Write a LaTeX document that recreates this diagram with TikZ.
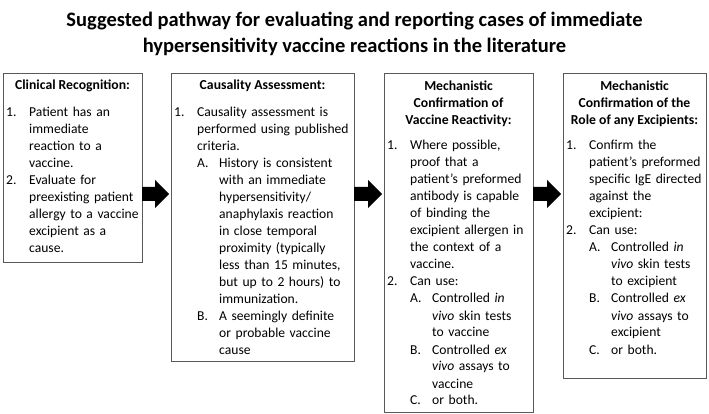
\documentclass[tikz,border=0pt]{standalone}
\usepackage{fontspec}
\setmainfont{Carlito}
\usetikzlibrary{calc}
\hyphenpenalty=10000
\newcommand{\Li}[1]{\makebox[23pt][l]{#1}}
\newcommand{\Ci}{\hspace*{23pt}}
\newcommand{\Lii}[1]{\hspace*{23pt}\makebox[22pt][l]{#1}}
\newcommand{\Cii}{\hspace*{45pt}}
\tikzset{
  stagebox/.style={draw=black!65, line width=0.8pt, anchor=north west, inner sep=0pt, outer sep=0pt},
  headtxt/.style={font=\fontsize{13.7}{17}\selectfont\bfseries, align=center, anchor=base, inner sep=0pt},
  bodytxt/.style={font=\fontsize{13.6}{17}\selectfont, align=left, anchor=base west, inner sep=0pt, text width=200pt},
  titletxt/.style={font=\fontsize{20.5}{26}\selectfont\bfseries, align=center, anchor=base, inner sep=0pt},
  flowarrow/.style={fill=black, draw=none}
}
\begin{document}
\begin{tikzpicture}[x=1pt,y=-1pt]
\useasboundingbox (0,0) rectangle (709,414);
\fill[white] (0,0) rectangle (709,414);

\node[titletxt] (title) at (354.5,53) {Suggested pathway for evaluating and reporting cases of immediate\\hypersensitivity vaccine reactions in the literature};

% boxes
\node[stagebox, minimum width=139pt, minimum height=189pt] (b1) at (3,73) {};
\node[stagebox, minimum width=183pt, minimum height=288pt] (b2) at (171,73) {};
\node[stagebox, minimum width=149pt, minimum height=339pt] (b3) at (384,73) {};
\node[stagebox, minimum width=143pt, minimum height=305pt] (b4) at (563,73) {};

% headers
\node[headtxt] (h1) at (72.5,90) {Clinical Recognition:};
\node[headtxt] (h2) at (262.5,90) {Causality Assessment:};
\node[headtxt] (h3) at (458.5,125) {Mechanistic\\Confirmation of\\Vaccine Reactivity:};
\node[headtxt] (h4) at (634.5,125) {Mechanistic\\Confirmation of the\\Role of any Excipients:};

% bodies
\node[bodytxt] (t1) at (6,117) {%
\Li{1.}Patient has an\\
\Ci immediate\\
\Ci reaction to a\\
\Ci vaccine.\\
\Li{2.}Evaluate for\\
\Ci preexisting patient\\
\Ci allergy to a vaccine\\
\Ci excipient as a\\
\Ci cause.};

\node[bodytxt] (t2) at (174,117) {%
\Li{1.}Causality assessment is\\
\Ci performed using published\\
\Ci criteria.\\
\Lii{A.}History is consistent\\
\Cii with an immediate\\
\Cii hypersensitivity/\\
\Cii anaphylaxis reaction\\
\Cii in close temporal\\
\Cii proximity (typically\\
\Cii less than 15 minutes,\\
\Cii but up to 2 hours) to\\
\Cii immunization.\\
\Lii{B.}A seemingly definite\\
\Cii or probable vaccine\\
\Cii cause};

\node[bodytxt] (t3) at (387,150) {%
\Li{1.}Where possible,\\
\Ci proof that a\\
\Ci patient’s preformed\\
\Ci antibody is capable\\
\Ci of binding the\\
\Ci excipient allergen in\\
\Ci the context of a\\
\Ci vaccine.\\
\Li{2.}Can use:\\
\Lii{A.}Controlled \textit{in}\\
\Cii \textit{vivo} skin tests\\
\Cii to vaccine\\
\Lii{B.}Controlled \textit{ex}\\
\Cii \textit{vivo} assays to\\
\Cii vaccine\\
\Lii{C.}or both.};

\node[bodytxt] (t4) at (566,150) {%
\Li{1.}Confirm the\\
\Ci patient’s preformed\\
\Ci specific IgE directed\\
\Ci against the\\
\Ci excipient:\\
\Li{2.}Can use:\\
\Lii{A.}Controlled \textit{in}\\
\Cii \textit{vivo} skin tests\\
\Cii to excipient\\
\Lii{B.}Controlled \textit{ex}\\
\Cii \textit{vivo} assays to\\
\Cii excipient\\
\Lii{C.}or both.};

% arrows
\foreach \s/\t/\n in {b1/b2/1, b2/b3/2, b3/b4/3}{
  \coordinate (as\n) at ([yshift=-121pt]\s.north east);
  \coordinate (ae\n) at ([yshift=-121pt,xshift=-2pt]\t.north west);
  \fill[flowarrow] ($(as\n)+(0,-7)$) -- ($(ae\n)+(-14,-7)$) -- ($(ae\n)+(-14,-14)$)
     -- (ae\n) -- ($(ae\n)+(-14,14)$) -- ($(ae\n)+(-14,7)$) -- ($(as\n)+(0,7)$) -- cycle;
}
\end{tikzpicture}
\end{document}
